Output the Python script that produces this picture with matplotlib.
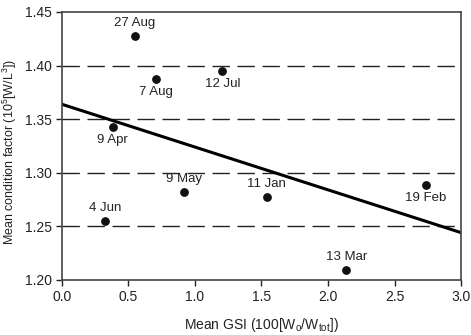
import matplotlib
matplotlib.use("Agg")
import matplotlib.pyplot as plt
import numpy as np

labels = ["27 Aug", "7 Aug", "12 Jul", "9 Apr", "9 May", "4 Jun", "11 Jan", "19 Feb", "13 Mar"]
gsi = [0.547, 0.707, 1.205, 0.381, 0.920, 0.326, 1.539, 2.737, 2.138]
cond = [1.4276, 1.3872, 1.395, 1.3424, 1.282, 1.255, 1.2777, 1.2883, 1.2093]
label_pos = ["above", "below", "below", "below", "above", "above", "above", "below", "above"]
fit_intercept = 1.3639
fit_slope = -0.0399
fit_x = [0.0, 3.0]
xticks = [0.0, 0.5, 1.0, 1.5, 2.0, 2.5, 3.0]
yticks = [1.20, 1.25, 1.30, 1.35, 1.40, 1.45]
grid_levels = [1.25, 1.30, 1.35, 1.40]

plt.rcParams['font.family'] = ['Liberation Sans', 'DejaVu Sans']

fig = plt.figure(figsize=(4.71, 3.35), dpi=100)
ax = fig.add_axes([0.1316, 0.1642, 0.9788 - 0.1316, 0.9642 - 0.1642])

for g in grid_levels:
    ax.axhline(g, color='#222222', lw=1.0, dashes=(12.5, 5.5), zorder=1)

fx = np.array(fit_x)
ax.plot(fx, fit_intercept + fit_slope * fx, color='black', lw=2.2, zorder=2)

ax.scatter(gsi, cond, s=28, color='#111111', zorder=3)
for lab, x, y, p in zip(labels, gsi, cond, label_pos):
    if p == "above":
        ax.annotate(lab, (x, y), xytext=(0, 5), textcoords='offset points',
                    ha='center', va='bottom', fontsize=9.5, color='#222222')
    else:
        ax.annotate(lab, (x, y), xytext=(0, -5), textcoords='offset points',
                    ha='center', va='top', fontsize=9.5, color='#222222')

ax.set_xlim(0, 3.0)
ax.set_ylim(1.20, 1.45)
ax.set_xticks(xticks)
ax.set_xticklabels([f"{t:.1f}" for t in xticks])
ax.set_yticks(yticks)
ax.set_yticklabels([f"{t:.2f}" for t in yticks])
ax.tick_params(direction='out', length=4, width=1, labelsize=10, colors='#222222', pad=3)
for s in ax.spines.values():
    s.set_color('#444444')
    s.set_linewidth(1.2)

ax.set_xlabel("Mean GSI (100[W$_\\mathregular{o}$/W$_\\mathregular{tot}$])", fontsize=10, color='#222222')
ax.set_ylabel("Mean condition factor (10$^\\mathregular{5}$[W/L$^\\mathregular{3}$])", fontsize=9, color='#222222')
ax.xaxis.set_label_coords(0.5, -0.135)
ax.yaxis.set_label_coords(-0.108, 0.48)

fig.savefig("out.png", dpi=100)
